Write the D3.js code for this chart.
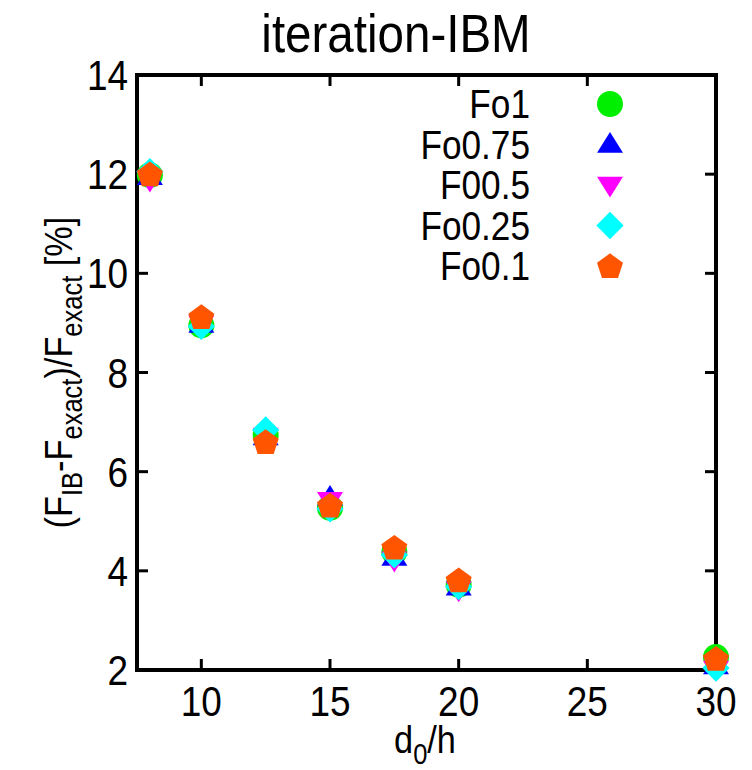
<!DOCTYPE html>
<html>
<head>
<meta charset="utf-8">
<script src="https://cdn.jsdelivr.net/npm/d3@7"></script>
<style>
  body { margin: 0; background: #fff; }
  text { font-family: "Liberation Sans", Arial, sans-serif; }
</style>
</head>
<body>
<div id="chart"></div>
<script>
const width = 752
const height = 770

// d0/h values
const xs = [8, 10, 12.5, 15, 17.5, 20, 30]

const seriesNames = ["Fo1", "Fo0.75", "F00.5", "Fo0.25", "Fo0.1"]
const seriesColors = ["#00ee00", "#0000ff", "#ff00ff", "#00ffff", "#ff5500"]
const seriesShapes = ["circle", "triangle", "triangleDown", "diamond", "pentagon"]

const fo1   = [11.98, 8.95, 6.74, 5.27, 4.38, 3.72, 2.26]
const fo075 = [11.95, 8.97, 6.70, 5.48, 4.27, 3.67, 2.08]
const fo05  = [11.88, 8.98, 6.72, 5.42, 4.22, 3.62, 2.02]
const fo025 = [12.05, 8.93, 6.84, 5.25, 4.32, 3.68, 2.04]
const fo01  = [12.00, 9.12, 6.60, 5.32, 4.47, 3.81, 2.23]
const seriesValues = [fo1, fo075, fo05, fo025, fo01]

const xTicks = [10, 15, 20, 25, 30]
const yTicks = [2, 4, 6, 8, 10, 12, 14]

const margin = {left: 137, right: 36, top: 75, bottom: 100}
const squeeze = 0.88  // the source picture has narrow, tall glyphs

const x = d3.scaleLinear().domain([7.5, 30]).range([margin.left, width - margin.right])
const y = d3.scaleLinear().domain([2, 14]).range([height - margin.bottom, margin.top])

const svg = d3.select("#chart").append("svg")
  .attr("width", width)
  .attr("height", height)

function symbolPath(shape, r) {
  if (shape === "circle") return d3.symbol(d3.symbolCircle, Math.PI * r * r)()
  if (shape === "diamond") {
    const s = r * 1.05
    return `M0,${-s}L${s},0L0,${s}L${-s},0Z`
  }
  if (shape === "triangle") {
    const h = r * 1.6
    return `M0,${-h * 0.6}L${r},${h * 0.4}L${-r},${h * 0.4}Z`
  }
  if (shape === "triangleDown") {
    const h = r * 1.6
    return `M0,${h * 0.6}L${r},${-h * 0.4}L${-r},${-h * 0.4}Z`
  }
  if (shape === "pentagon") {
    const pts = d3.range(5).map(i => {
      const a = -Math.PI / 2 + i * 2 * Math.PI / 5
      return [r * 1.05 * Math.cos(a), r * 1.05 * Math.sin(a) + 1]
    })
    return "M" + pts.map(p => p.join(",")).join("L") + "Z"
  }
}

function label(px, py, size, anchor, str) {
  return svg.append("text")
    .attr("transform", `translate(${px},${py}) scale(${squeeze},1)`)
    .attr("text-anchor", anchor)
    .attr("font-size", size)
    .text(str)
}

// axes (gnuplot style: ticks inward on all four sides)
const tickLen = 11
const frame = svg.append("g")

xTicks.forEach(t => {
  frame.append("line")
    .attr("x1", x(t)).attr("x2", x(t))
    .attr("y1", y(2)).attr("y2", y(2) - tickLen)
    .attr("stroke", "#000").attr("stroke-width", 3)
  frame.append("line")
    .attr("x1", x(t)).attr("x2", x(t))
    .attr("y1", y(14)).attr("y2", y(14) + tickLen)
    .attr("stroke", "#000").attr("stroke-width", 3)
  label(x(t), y(2) + 46, 42, "middle", t)
})

yTicks.forEach(t => {
  frame.append("line")
    .attr("x1", x(7.5)).attr("x2", x(7.5) + tickLen)
    .attr("y1", y(t)).attr("y2", y(t))
    .attr("stroke", "#000").attr("stroke-width", 3)
  frame.append("line")
    .attr("x1", x(30)).attr("x2", x(30) - tickLen)
    .attr("y1", y(t)).attr("y2", y(t))
    .attr("stroke", "#000").attr("stroke-width", 3)
  label(x(7.5) - 9, y(t) + 15, 42, "end", t)
})

frame.append("rect")
  .attr("x", x(7.5)).attr("y", y(14))
  .attr("width", x(30) - x(7.5)).attr("height", y(2) - y(14))
  .attr("fill", "none").attr("stroke", "#000").attr("stroke-width", 4)

// points
seriesValues.forEach((vals, i) => {
  svg.append("g")
    .selectAll("path")
    .data(xs.map((xv, j) => ({x: xv, y: vals[j]})))
    .join("path")
      .attr("transform", d => `translate(${x(d.x)},${y(d.y)})`)
      .attr("d", symbolPath(seriesShapes[i], 13))
      .attr("fill", seriesColors[i])
})

// legend
seriesNames.forEach((name, i) => {
  const ly = 104 + i * 40.5
  label(530, ly + 14, 40, "end", name)
  svg.append("path")
    .attr("transform", `translate(610,${ly})`)
    .attr("d", symbolPath(seriesShapes[i], 13))
    .attr("fill", seriesColors[i])
})

// title
label(396, 52, 54, "middle", "iteration-IBM")

// x label
const xl = label(425, 753, 39, "middle", null)
xl.append("tspan").text("d")
xl.append("tspan").attr("font-size", 29).attr("dy", 11).text("0")
xl.append("tspan").attr("dy", -11).text("/h")

// y label
const yl = svg.append("text")
  .attr("transform", `translate(72,${y(8)}) rotate(-90) scale(${squeeze},1)`)
  .attr("text-anchor", "middle")
  .attr("font-size", 39)
yl.append("tspan").text("(F")
yl.append("tspan").attr("font-size", 29).attr("dy", 10).text("IB")
yl.append("tspan").attr("dy", -10).text("-F")
yl.append("tspan").attr("font-size", 29).attr("dy", 10).text("exact")
yl.append("tspan").attr("dy", -10).text(")/F")
yl.append("tspan").attr("font-size", 29).attr("dy", 10).text("exact")
yl.append("tspan").attr("dy", -10).text(" [%]")
</script>
</body>
</html>
